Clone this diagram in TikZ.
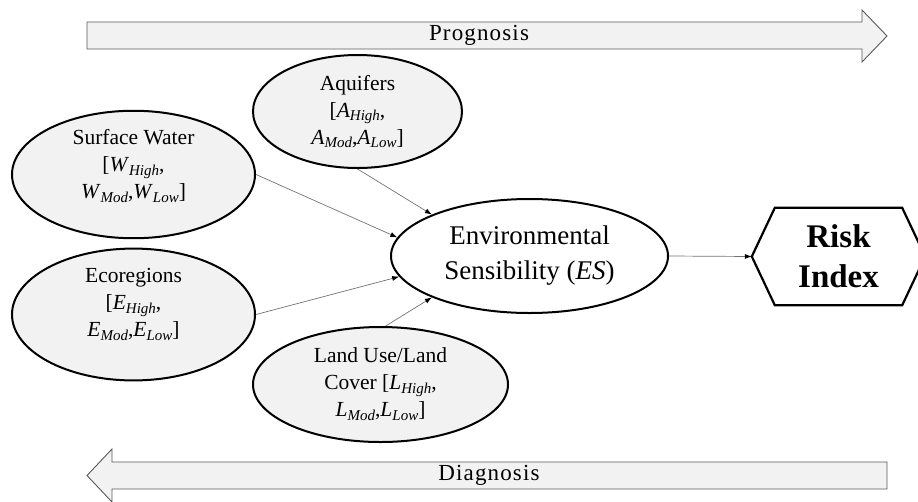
\documentclass[tikz,border=0pt]{standalone}
\usepackage{fontspec}
\setmainfont{Liberation Serif}
\usetikzlibrary{arrows.meta,shapes.geometric}
\definecolor{pale}{HTML}{F2F2F2}
\newcommand{\idx}[2]{\textit{#1}\raisebox{-0.4ex}{\fontsize{15}{15}\selectfont\textit{#2}}}

\begin{document}
\begin{tikzpicture}[x=1pt, y=-1pt,
    factor/.style={ellipse, draw, line width=2pt, fill=pale, inner sep=0pt, align=center,
      font=\fontsize{21.5}{27}\selectfont},
    link/.style={draw=black!55, line width=0.7pt, -{Latex[length=7pt, width=5pt, color=black]}},
    flow/.style={draw=black!65, line width=0.9pt, fill=pale}]
  \useasboundingbox (0,0) rectangle (918,501);
  % block arrows
  \draw[flow] (87,22) -- (862,22) -- (862,10) -- (887,36) -- (862,62) -- (862,49) -- (87,49) -- cycle;
  \node (prog) at (479,35.5) {\fontsize{23}{23}\selectfont\addfontfeature{LetterSpace=5}Prognosis};
  \draw[flow] (887,462) -- (112,462) -- (112,449) -- (87,475.5) -- (112,502) -- (112,489) -- (887,489) -- cycle;
  \node (diag) at (489,475.5) {\fontsize{23}{23}\selectfont\addfontfeature{LetterSpace=5}Diagnosis};
  % factors
  \node[factor, minimum width=209pt, minimum height=113pt] (aq) at (357.5,111.5)
    {Aquifers\\ {[}\idx{A}{High},\\ \idx{A}{Mod},\idx{A}{Low}]};
  \node[factor, minimum width=243pt, minimum height=115pt] (sw) at (133.5,174.5)
    {Surface Water\\ {[}\idx{W}{High},\\ \idx{W}{Mod},\idx{W}{Low}]\\[-6pt]\mbox{}};
  \node[factor, minimum width=243pt, minimum height=115pt] (eco) at (133.5,314.5)
    {Ecoregions\\ {[}\idx{E}{High},\\ \idx{E}{Mod},\idx{E}{Low}]\\[-2pt]\mbox{}};
  \node[factor, minimum width=255pt, minimum height=115pt] (lu) at (380.5,384.5)
    {Land Use/Land\\ Cover [\idx{L}{High},\\ \idx{L}{Mod},\idx{L}{Low}]};
  \node[factor, fill=white, minimum width=277pt, minimum height=114pt,
    font=\fontsize{27}{35}\selectfont] (es) at (529.5,256)
    {Environmental\\ Sensibility (\textit{ES})};
  % risk index
  \node[font=\fontsize{33}{40}\selectfont\bfseries, align=center, inner sep=0pt,
    minimum width=173pt, minimum height=97pt] (risk) at (838.5,256.5) {Risk\\ Index};
  \draw[line width=2.2pt, line join=miter]
    (risk.west) -- ([xshift=23pt]risk.north west) -- ([xshift=-23pt]risk.north east)
    -- (risk.east) -- ([xshift=-23pt]risk.south east) -- ([xshift=23pt]risk.south west) -- cycle;
  % connectors
  \draw[link] (aq.south) -- (es.157);
  \draw[link] (sw.east) -- (es.172);
  \draw[link] (eco.east) -- (es.189);
  \draw[link] (lu.85) -- (es.203);
  \draw[link] (es.east) -- (risk.west);
\end{tikzpicture}
\end{document}
